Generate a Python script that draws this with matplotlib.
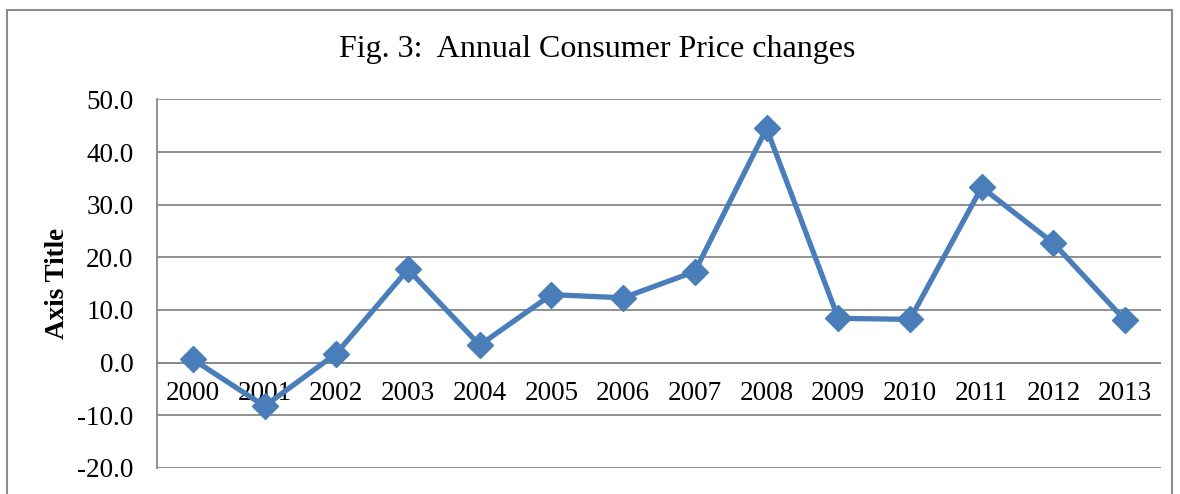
import matplotlib
matplotlib.use("Agg")
import matplotlib.pyplot as plt
from matplotlib.patches import Rectangle

years = ["2000", "2001", "2002", "2003", "2004", "2005", "2006",
         "2007", "2008", "2009", "2010", "2011", "2012", "2013"]
cpi_change = [0.6, -8.3, 1.7, 17.7, 3.3, 12.9, 12.3,
              17.3, 44.5, 8.4, 8.2, 33.3, 22.7, 8.0]
y_ticks = [-20, -10, 0, 10, 20, 30, 40, 50]

plt.rcParams['font.family'] = ['Liberation Serif', 'DejaVu Serif']

W, H = 1180, 494
fig = plt.figure(figsize=(W / 100, H / 100), dpi=100)
fig.patch.set_facecolor('white')

# outer chart border
fig.patches.append(Rectangle((7 / W, -0.05), (1172 - 7) / W, 1 - 10 / H + 0.05,
                             transform=fig.transFigure, fill=False,
                             edgecolor='#8c8c8c', linewidth=1.5, clip_on=False))

left, right = 157, 1161
top, bottom = 99.5, 467.7
ax = fig.add_axes([left / W, 1 - bottom / H, (right - left) / W, (bottom - top) / H])

x = list(range(len(years)))
ax.plot(x, cpi_change, color='#4A7EBB', linewidth=3.8, marker='D',
        markersize=13, markerfacecolor='#4A7EBB', markeredgecolor='#4A7EBB',
        zorder=3, clip_on=False)

ax.set_xlim(-0.5, len(years) - 0.5)
ax.set_ylim(-20, 50)
ax.set_yticks(y_ticks)
ax.set_yticklabels([f"{v:.1f}" for v in y_ticks], fontsize=19.5)
ax.yaxis.grid(True, color='#878787', linewidth=1.3)
ax.set_axisbelow(True)
ax.tick_params(axis='y', length=0, pad=17)
ax.tick_params(axis='x', length=0)
ax.set_xticks([])

for s in ['top', 'right', 'bottom']:
    ax.spines[s].set_visible(False)
ax.spines['left'].set_color('#878787')
ax.spines['left'].set_linewidth(1.3)
ax.axhline(0, color='#878787', linewidth=1.3, zorder=1)

# category labels next to the horizontal axis (at 0)
for xi, lab in zip(x, years):
    ax.annotate(lab, xy=(xi, 0), xytext=(0, -13), textcoords='offset points',
                ha='center', va='top', fontsize=19.5, zorder=2)

fig.text(57 / W, 1 - 283 / H, "Axis Title", rotation=90, ha='center', va='center',
         fontsize=19.5, fontweight='bold')

fig.text(597 / W, 1 - 49 / H, "Fig. 3:  Annual Consumer Price changes",
         ha='center', va='center', fontsize=23)

fig.savefig("out.png", dpi=100, facecolor='white')
